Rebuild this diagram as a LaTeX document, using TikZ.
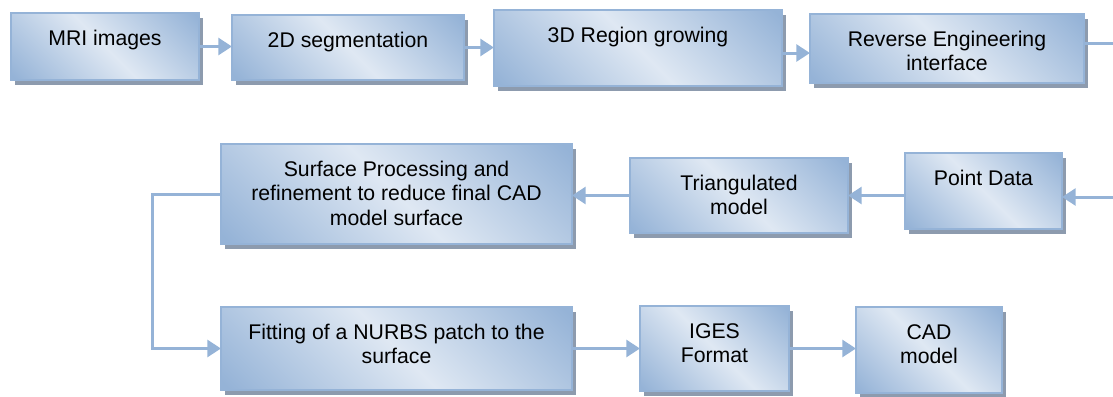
\documentclass[tikz,border=0pt]{standalone}
\usepackage{fontspec}
\setmainfont{Liberation Sans}
\usetikzlibrary{arrows.meta,shadows,calc}
\newlength\pxu
\setlength\pxu{0.025cm}
\definecolor{blkdark}{HTML}{95B3D7}
\definecolor{blklight}{HTML}{DFE8F3}
\definecolor{blkline}{HTML}{95B3D7}
\definecolor{blkshadow}{HTML}{8D9BAE}
\pgfdeclarehorizontalshading{blkshade}{100bp}{color(0bp)=(blkdark); color(16bp)=(blkdark); color(50bp)=(blklight); color(84bp)=(blkdark); color(100bp)=(blkdark)}
\newcommand{\blktext}[3]{\parbox[c][#2\pxu][t]{#1\pxu}{\centering\vspace*{15\pxu}\strut#3}}
\tikzset{
  blk/.style={draw=blkline, line width=0.06cm, shading=blkshade, shading angle=45, inner sep=0pt, outer sep=0pt,
    drop shadow={shadow xshift=0.1cm, shadow yshift=-0.125cm, fill=blkshadow, opacity=1},
    font=\fontsize{15.1}{17.4}\selectfont},
  conn/.style={draw=blkline, line width=0.075cm, -{Triangle[length=0.34cm, width=0.42cm]}}
}
\begin{document}
\begin{tikzpicture}[x=0.025cm, y=-0.025cm]
\clip (0,0) rectangle (1113,396);
\node[blk] (mri) at (105,46.5) {\blktext{188}{67}{MRI images}};
\node[blk] (seg) at (348,47.5) {\blktext{232}{65}{2D segmentation}};
\node[blk] (reg) at (638,48) {\blktext{288}{76}{3D Region growing}};
\node[blk] (re) at (947,48.5) {\blktext{274}{69}{Reverse Engineering\\interface}};
\node[blk] (pd) at (983.5,191) {\blktext{157}{76}{Point Data}};
\node[blk] (tri) at (739,195.5) {\blktext{218}{75}{Triangulated\\model}};
\node[blk] (sp) at (396.5,194) {\blktext{351}{100}{Surface Processing and\\refinement to reduce final CAD\\model surface}};
\node[blk] (fit) at (396.5,348.5) {\blktext{351}{83}{Fitting of a NURBS patch to the\\surface}};
\node[blk] (iges) at (714.5,348.5) {\blktext{149}{85}{IGES\\Format}};
\node[blk] (cad) at (929,350) {\blktext{146}{86}{CAD\\model}};
\draw[conn] (mri.east) -- (mri.east -| seg.west);
\draw[conn] (seg.east) -- (seg.east -| reg.west);
\draw[conn] ([yshift=-0.125cm]reg.east) -- ([yshift=-0.125cm]reg.east -| re.west);
\draw[conn] ([yshift=0.125cm]re.east) -- ++(45,0) |- ([yshift=-0.15cm]pd.east);
\draw[conn] (pd.west |- tri.east) -- (tri.east);
\draw[conn] (tri.west) -- (tri.west -| sp.east);
\draw[conn] (sp.west) -- ++(-69,0) |- (fit.west);
\draw[conn] (fit.east) -- (fit.east -| iges.west);
\draw[conn] (iges.east) -- (iges.east -| cad.west);
\end{tikzpicture}
\end{document}
